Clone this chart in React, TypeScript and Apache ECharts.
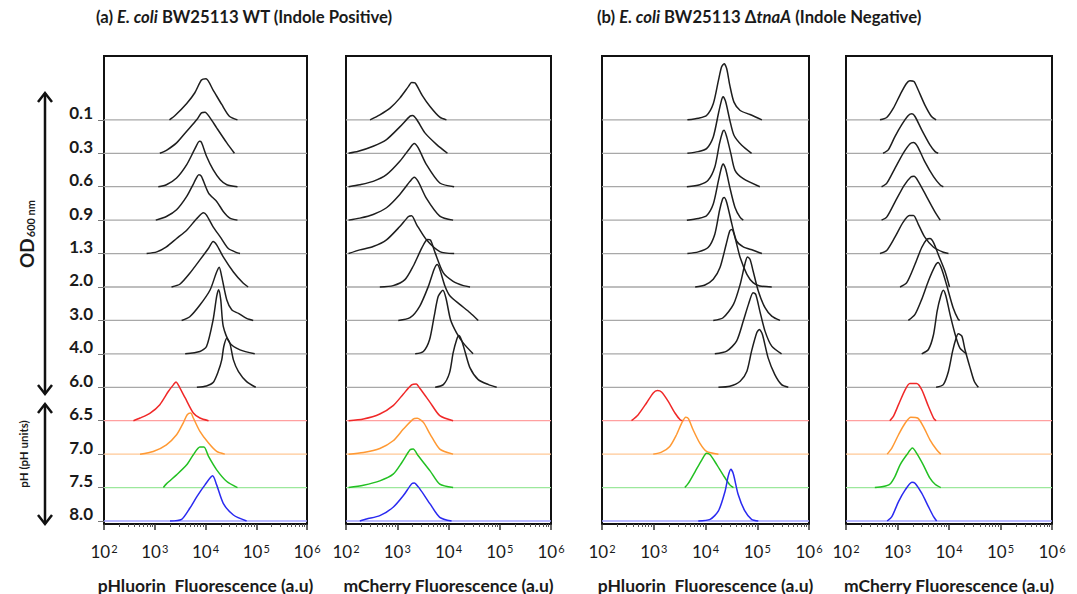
import { useEffect, useRef } from 'react';
import * as echarts from 'echarts';

// Row labels (top to bottom): OD600 values, then pH values
const rowLabels = ['0.1', '0.3', '0.6', '0.9', '1.3', '2.0', '3.0', '4.0', '6.0', '6.5', '7.0', '7.5', '8.0'];
const curveColors = ['#1e1e1e', '#1e1e1e', '#1e1e1e', '#1e1e1e', '#1e1e1e', '#1e1e1e', '#1e1e1e', '#1e1e1e', '#1e1e1e', '#f02828', '#ff9933', '#22c022', '#2a2af0'];
const baseColors = ['#a8a8a8', '#a8a8a8', '#a8a8a8', '#a8a8a8', '#a8a8a8', '#a8a8a8', '#a8a8a8', '#a8a8a8', '#a8a8a8', '#ffa0a0', '#ffc896', '#9ce89c', '#a0a0ff'];

// x tick values (a.u.)
const decadeTicks = [1e2, 1e3, 1e4, 1e5, 1e6];
const minorMultipliers = [2, 3, 4, 5, 6, 7, 8, 9];

// Each curve: [log10(fluorescence a.u.), relative count height in row units]
const pHluorinWT: number[][][] = [
  [[3.29, 0], [3.40, 0.13], [3.63, 0.49], [3.79, 0.81], [3.92, 1.19], [4.01, 1.23], [4.15, 0.89], [4.32, 0.46], [4.47, 0.11], [4.63, 0]],
  [[3.10, 0], [3.23, 0.09], [3.43, 0.31], [3.63, 0.66], [3.83, 1.01], [3.92, 1.21], [3.99, 1.23], [4.09, 1.06], [4.22, 0.76], [4.42, 0.31], [4.57, 0]],
  [[3.07, 0], [3.23, 0.06], [3.43, 0.26], [3.63, 0.66], [3.79, 1.13], [3.88, 1.36], [3.92, 1.33], [4.02, 0.91], [4.15, 0.51], [4.29, 0.21], [4.42, 0.06], [4.63, 0]],
  [[3.02, 0], [3.23, 0.11], [3.43, 0.31], [3.63, 0.71], [3.77, 1.11], [3.87, 1.36], [3.92, 1.31], [4.06, 0.81], [4.22, 0.56], [4.35, 0.26], [4.48, 0.06], [4.63, 0]],
  [[2.84, 0], [3.04, 0.05], [3.23, 0.2], [3.43, 0.45], [3.63, 0.7], [3.83, 1.05], [3.96, 1.22], [4.02, 1.15], [4.15, 0.8], [4.29, 0.5], [4.45, 0.15], [4.63, 0.02], [4.68, 0]],
  [[3.33, 0], [3.50, 0.09], [3.69, 0.41], [3.89, 0.81], [4.06, 1.16], [4.15, 1.36], [4.22, 1.26], [4.35, 0.9], [4.55, 0.45], [4.74, 0.12], [4.84, 0]],
  [[3.53, 0], [3.69, 0.11], [3.89, 0.46], [4.09, 0.91], [4.21, 1.41], [4.27, 1.59], [4.32, 1.31], [4.42, 0.61], [4.52, 0.31], [4.65, 0.21], [4.81, 0.06], [4.94, 0]],
  [[3.60, 0], [3.89, 0.07], [4.02, 0.22], [4.15, 1.02], [4.22, 1.72], [4.26, 1.92], [4.30, 1.62], [4.35, 0.82], [4.48, 0.32], [4.68, 0.12], [4.97, 0]],
  [[3.83, 0], [4.02, 0.04], [4.15, 0.14], [4.25, 0.47], [4.32, 0.82], [4.36, 1.22], [4.42, 1.47], [4.48, 1.32], [4.55, 0.82], [4.65, 0.47], [4.81, 0.17], [4.99, 0]],
  [[2.58, 0], [2.71, 0.08], [2.91, 0.23], [3.10, 0.48], [3.27, 0.88], [3.37, 1.08], [3.42, 1.16], [3.46, 1.08], [3.60, 0.68], [3.76, 0.23], [3.89, 0.08], [4.06, 0]],
  [[2.71, 0], [2.97, 0.08], [3.23, 0.28], [3.43, 0.58], [3.56, 0.93], [3.64, 1.18], [3.71, 1.23], [3.76, 1.08], [3.89, 0.68], [4.06, 0.33], [4.22, 0.08], [4.38, 0]],
  [[3.17, 0], [3.23, 0.11], [3.43, 0.38], [3.63, 0.68], [3.76, 0.98], [3.89, 1.21], [3.97, 1.21], [4.06, 0.93], [4.22, 0.53], [4.42, 0.18], [4.63, 0]],
  [[3.30, 0], [3.53, 0.05], [3.69, 0.38], [3.83, 0.73], [3.99, 1.08], [4.14, 1.35], [4.22, 1.08], [4.35, 0.53], [4.55, 0.18], [4.81, 0]],
];

const mCherryWT: number[][][] = [
  [[2.47, 0], [2.66, 0.15], [2.86, 0.35], [3.05, 0.65], [3.22, 1.0], [3.28, 1.12], [3.35, 1.1], [3.48, 0.75], [3.64, 0.4], [3.83, 0.08], [3.96, 0]],
  [[2.05, 0], [2.24, 0.06], [2.53, 0.21], [2.79, 0.41], [3.05, 0.79], [3.25, 1.11], [3.30, 1.13], [3.38, 1.01], [3.54, 0.61], [3.77, 0.26], [3.98, 0]],
  [[2.05, 0], [2.27, 0.06], [2.53, 0.16], [2.79, 0.36], [3.05, 0.76], [3.25, 1.16], [3.33, 1.29], [3.41, 1.16], [3.57, 0.66], [3.83, 0.11], [4.11, 0]],
  [[2.05, 0], [2.27, 0.06], [2.53, 0.17], [2.79, 0.37], [3.05, 0.77], [3.25, 1.16], [3.33, 1.28], [3.41, 1.15], [3.57, 0.65], [3.83, 0.12], [4.09, 0]],
  [[2.05, 0], [2.27, 0.11], [2.53, 0.21], [2.79, 0.41], [3.05, 0.81], [3.22, 1.11], [3.28, 1.13], [3.38, 0.86], [3.57, 0.41], [3.83, 0.06], [4.11, 0]],
  [[2.66, 0], [2.92, 0.04], [3.15, 0.22], [3.31, 0.62], [3.48, 1.17], [3.59, 1.42], [3.65, 1.40], [3.74, 1.02], [3.90, 0.42], [4.09, 0.17], [4.29, 0.04], [4.42, 0]],
  [[3.02, 0], [3.25, 0.08], [3.44, 0.43], [3.61, 1.03], [3.72, 1.53], [3.78, 1.67], [3.83, 1.53], [3.93, 1.03], [4.03, 0.73], [4.22, 0.48], [4.42, 0.23], [4.58, 0]],
  [[3.35, 0], [3.51, 0.07], [3.63, 0.42], [3.72, 1.12], [3.80, 1.72], [3.89, 1.9], [3.95, 1.67], [4.04, 1.02], [4.16, 0.62], [4.29, 0.32], [4.48, 0]],
  [[3.74, 0], [3.90, 0.08], [4.02, 0.43], [4.09, 1.03], [4.16, 1.43], [4.20, 1.55], [4.25, 1.43], [4.32, 1.08], [4.42, 0.58], [4.58, 0.23], [4.78, 0.08], [4.94, 0]],
  [[2.05, 0], [2.34, 0.05], [2.66, 0.2], [2.92, 0.45], [3.12, 0.8], [3.28, 1.07], [3.37, 1.1], [3.44, 0.97], [3.64, 0.55], [3.83, 0.15], [4.09, 0]],
  [[2.05, 0], [2.34, 0.05], [2.66, 0.17], [2.92, 0.4], [3.12, 0.75], [3.31, 1.05], [3.39, 1.07], [3.51, 0.95], [3.64, 0.6], [3.83, 0.15], [4.09, 0]],
  [[2.05, 0], [2.34, 0.07], [2.66, 0.2], [2.92, 0.4], [3.09, 0.75], [3.25, 1.13], [3.31, 1.15], [3.41, 0.95], [3.64, 0.5], [3.83, 0.1], [4.09, 0]],
  [[2.27, 0], [2.40, 0.06], [2.66, 0.16], [2.92, 0.41], [3.12, 0.76], [3.28, 1.11], [3.33, 1.14], [3.44, 0.96], [3.64, 0.51], [3.83, 0.11], [4.06, 0]],
];

const pHluorinTnaA: number[][][] = [
  [[3.65, 0], [3.86, 0.05], [4.02, 0.13], [4.15, 0.48], [4.25, 1.18], [4.31, 1.58], [4.36, 1.68], [4.41, 1.53], [4.47, 1.03], [4.55, 0.53], [4.67, 0.28], [4.86, 0.16], [5.09, 0]],
  [[3.65, 0], [3.86, 0.05], [4.02, 0.14], [4.15, 0.49], [4.25, 1.19], [4.31, 1.59], [4.34, 1.69], [4.39, 1.54], [4.47, 0.99], [4.55, 0.54], [4.70, 0.24], [4.89, 0]],
  [[3.64, 0], [3.89, 0.06], [4.05, 0.19], [4.18, 0.59], [4.27, 1.29], [4.33, 1.64], [4.36, 1.69], [4.41, 1.49], [4.49, 0.99], [4.57, 0.49], [4.73, 0.24], [5.05, 0]],
  [[3.64, 0], [3.86, 0.05], [4.02, 0.13], [4.15, 0.48], [4.25, 1.18], [4.31, 1.58], [4.34, 1.68], [4.39, 1.53], [4.47, 0.98], [4.57, 0.38], [4.67, 0.08], [4.73, 0]],
  [[3.65, 0], [3.86, 0.05], [4.05, 0.18], [4.18, 0.58], [4.27, 1.28], [4.33, 1.63], [4.36, 1.68], [4.41, 1.53], [4.51, 0.88], [4.60, 0.38], [4.73, 0.2], [4.92, 0.1], [5.09, 0]],
  [[3.80, 0], [3.99, 0.06], [4.15, 0.23], [4.28, 0.58], [4.40, 1.28], [4.47, 1.68], [4.51, 1.72], [4.57, 1.48], [4.67, 0.88], [4.80, 0.38], [4.92, 0.13], [5.05, 0.03], [5.28, 0]],
  [[4.15, 0], [4.34, 0.08], [4.54, 0.48], [4.67, 1.08], [4.76, 1.68], [4.81, 1.9], [4.86, 1.83], [4.92, 1.48], [5.02, 0.88], [5.15, 0.38], [5.28, 0.13], [5.44, 0]],
  [[4.18, 0], [4.41, 0.08], [4.60, 0.38], [4.73, 0.98], [4.83, 1.48], [4.92, 1.83], [4.97, 1.78], [5.05, 1.28], [5.15, 0.68], [5.28, 0.23], [5.47, 0]],
  [[4.25, 0], [4.47, 0.03], [4.67, 0.18], [4.80, 0.48], [4.89, 1.08], [4.99, 1.63], [5.04, 1.73], [5.10, 1.58], [5.21, 0.88], [5.34, 0.38], [5.47, 0.08], [5.60, 0]],
  [[2.57, 0], [2.70, 0.18], [2.86, 0.53], [2.99, 0.83], [3.07, 0.9], [3.15, 0.86], [3.28, 0.58], [3.41, 0.23], [3.51, 0.03], [3.57, 0]],
  [[2.99, 0], [3.15, 0.06], [3.31, 0.23], [3.44, 0.58], [3.54, 0.93], [3.62, 1.1], [3.67, 1.06], [3.76, 0.73], [3.89, 0.33], [4.02, 0.08], [4.25, 0]],
  [[3.60, 0], [3.67, 0.13], [3.80, 0.48], [3.93, 0.83], [4.02, 1.03], [4.09, 0.98], [4.22, 0.68], [4.34, 0.38], [4.47, 0.08], [4.54, 0]],
  [[3.86, 0], [4.09, 0.05], [4.25, 0.3], [4.38, 0.9], [4.44, 1.35], [4.49, 1.55], [4.54, 1.4], [4.63, 0.8], [4.76, 0.3], [4.89, 0.05], [5.02, 0]],
];

const mCherryTnaA: number[][][] = [
  [[2.66, 0], [2.79, 0.07], [2.92, 0.35], [3.05, 0.75], [3.17, 1.08], [3.24, 1.17], [3.32, 1.15], [3.40, 0.9], [3.53, 0.45], [3.66, 0.1], [3.75, 0]],
  [[2.72, 0], [2.82, 0.1], [2.95, 0.5], [3.08, 0.85], [3.21, 1.13], [3.28, 1.18], [3.34, 1.1], [3.47, 0.7], [3.63, 0.25], [3.73, 0.05], [3.79, 0]],
  [[2.69, 0], [2.79, 0.1], [2.95, 0.55], [3.11, 1.0], [3.24, 1.28], [3.31, 1.32], [3.39, 1.2], [3.53, 0.75], [3.70, 0.3], [3.83, 0.05], [3.89, 0]],
  [[2.69, 0], [2.79, 0.09], [2.95, 0.54], [3.13, 1.04], [3.26, 1.29], [3.32, 1.31], [3.40, 1.17], [3.57, 0.69], [3.73, 0.24], [3.83, 0]],
  [[2.66, 0], [2.79, 0.09], [2.95, 0.49], [3.11, 0.94], [3.23, 1.14], [3.31, 1.14], [3.40, 0.89], [3.53, 0.49], [3.70, 0.19], [3.89, 0.04], [3.99, 0]],
  [[3.05, 0], [3.18, 0.13], [3.34, 0.68], [3.47, 1.18], [3.57, 1.43], [3.63, 1.45], [3.70, 1.33], [3.79, 0.98], [3.92, 0.48], [4.01, 0]],
  [[3.21, 0], [3.34, 0.18], [3.47, 0.63], [3.60, 1.18], [3.73, 1.63], [3.79, 1.73], [3.86, 1.53], [3.95, 1.08], [4.08, 0.38], [4.18, 0.03], [4.21, 0]],
  [[3.47, 0], [3.60, 0.13], [3.70, 0.58], [3.77, 1.28], [3.84, 1.73], [3.89, 1.9], [3.94, 1.73], [4.02, 1.18], [4.12, 0.58], [4.21, 0.18], [4.34, 0]],
  [[3.75, 0], [3.89, 0.08], [3.99, 0.48], [4.07, 1.08], [4.14, 1.48], [4.18, 1.6], [4.25, 1.53], [4.31, 1.13], [4.41, 0.58], [4.49, 0.18], [4.57, 0]],
  [[2.85, 0], [2.92, 0.13], [3.02, 0.48], [3.15, 0.93], [3.24, 1.11], [3.37, 1.11], [3.47, 0.93], [3.60, 0.43], [3.70, 0.08], [3.75, 0]],
  [[2.80, 0], [2.89, 0.18], [3.02, 0.58], [3.15, 0.93], [3.26, 1.1], [3.39, 1.08], [3.50, 0.83], [3.63, 0.43], [3.76, 0.13], [3.84, 0]],
  [[2.56, 0], [2.72, 0.03], [2.85, 0.1], [2.95, 0.33], [3.05, 0.68], [3.18, 0.98], [3.29, 1.18], [3.37, 1.03], [3.50, 0.68], [3.63, 0.28], [3.73, 0.1], [3.84, 0]],
  [[2.80, 0], [2.89, 0.13], [3.02, 0.58], [3.15, 0.93], [3.28, 1.16], [3.34, 1.13], [3.47, 0.83], [3.60, 0.43], [3.70, 0.13], [3.76, 0]],
];

const panelData = [pHluorinWT, mCherryWT, pHluorinTnaA, mCherryTnaA];
const panelXNames = ['pHluorin  Fluorescence (a.u)', 'mCherry Fluorescence (a.u)', 'pHluorin  Fluorescence (a.u)', 'mCherry Fluorescence (a.u)'];

const FONT = 'Lato, "Open Sans", sans-serif';
const TEXT = '#1a1a1a';

export default function App() {
  const ref = useRef<HTMLDivElement>(null);

  useEffect(() => {
    document.body.style.margin = '0';
    const chart = echarts.init(ref.current!, null, { renderer: 'svg' });

    const panelLayout = [
      { left: 104, width: 203 },
      { left: 346, width: 205 },
      { left: 602, width: 207 },
      { left: 846, width: 206 },
    ];
    const nRows = rowLabels.length;
    const BASE_OFFSET = 0.09; // lowest baseline sits just above the x axis
    const baseOf = (r: number) => BASE_OFFSET + (nRows - 1 - r);
    const rowVals = rowLabels.map((_, r) => baseOf(r));
    const minorTicks: number[] = [];
    decadeTicks.slice(0, -1).forEach((d) => minorMultipliers.forEach((m) => minorTicks.push(d * m)));

    const grid = panelLayout.map((p) => ({
      left: p.left,
      width: p.width,
      top: 56,
      bottom: 70,
      show: true,
      borderColor: '#111',
      borderWidth: 2,
      backgroundColor: 'transparent',
      containLabel: false,
      outerBoundsMode: 'none',
    }));

    const xAxis: any[] = [];
    panelLayout.forEach((_, p) => {
      xAxis.push({
        type: 'log',
        logBase: 10,
        gridIndex: p,
        min: 1e2,
        max: 1e6,
        position: 'bottom',
        name: panelXNames[p],
        nameLocation: 'middle',
        nameGap: 52,
        nameTextStyle: { fontFamily: FONT, fontWeight: 'bold', fontSize: 17.5, color: TEXT },
        axisLine: { show: true, lineStyle: { color: '#111', width: 2 } },
        axisTick: { show: true, length: 6, customValues: decadeTicks, lineStyle: { color: '#333', width: 1.5 } },
        axisLabel: {
          show: true,
          customValues: decadeTicks,
          margin: 19,
          formatter: (v: number) => `{a|10}{b|${Math.round(Math.log10(v))}}`,
          rich: {
            a: { fontFamily: FONT, fontSize: 17, color: TEXT },
            b: { fontFamily: FONT, fontSize: 11, color: TEXT, verticalAlign: 'top', padding: [0, 0, 6, 1] },
          },
        },
        splitLine: { show: false },
        minorTick: { show: false },
      });
      xAxis.push({
        type: 'log',
        logBase: 10,
        gridIndex: p,
        min: 1e2,
        max: 1e6,
        position: 'bottom',
        offset: 0,
        axisLine: { show: false },
        axisTick: { show: true, length: 3, customValues: minorTicks, lineStyle: { color: '#555', width: 1 } },
        axisLabel: { show: false },
        splitLine: { show: false },
      });
    });

    const yAxis = panelLayout.map((_, p) => ({
      type: 'value',
      gridIndex: p,
      min: 0,
      max: 14,
      interval: 1,
      axisLine: { show: false },
      splitLine: { show: false },
      axisTick: p === 0
        ? { show: true, length: 6, customValues: rowVals, lineStyle: { color: '#777', width: 1 } }
        : { show: false },
      axisLabel: p === 0
        ? {
            show: true,
            customValues: rowVals,
            margin: 11,
            formatter: (v: number) => rowLabels[nRows - 1 - Math.round(v - BASE_OFFSET)],
            fontFamily: FONT,
            fontWeight: 'bold',
            fontSize: 17,
            color: TEXT,
            verticalAlign: 'bottom',
            lineHeight: 14,
          }
        : { show: false },
    }));

    const series: any[] = [];
    panelData.forEach((curves, p) => {
      curves.forEach((pts, r) => {
        const base = baseOf(r);
        series.push({
          type: 'line',
          xAxisIndex: p * 2,
          yAxisIndex: p,
          data: [[1e2, base], [1e6, base]],
          symbol: 'none',
          silent: true,
          z: 1,
          lineStyle: { color: baseColors[r], width: 1.3 },
        });
        series.push({
          type: 'line',
          xAxisIndex: p * 2,
          yAxisIndex: p,
          data: pts.map(([lx, h]) => [Math.pow(10, lx), base + h]),
          symbol: 'none',
          silent: true,
          smooth: 0.25,
          z: 2,
          lineStyle: { color: curveColors[r], width: 1.5 },
        });
      });
    });

    const titleRich = {
      b: { fontFamily: FONT, fontWeight: 'bold', fontSize: 16.7, color: TEXT },
      i: { fontFamily: FONT, fontWeight: 'bold', fontStyle: 'italic', fontSize: 16.7, color: TEXT },
    };

    const arrowStyle = { stroke: '#111', lineWidth: 2.5, fill: 'none' };

    const option: any = {
      animation: false,
      backgroundColor: '#ffffff',
      title: [
        {
          text: '{b|(a) }{i|E. coli}{b| BW25113 WT (Indole Positive)}',
          left: 96,
          top: 8,
          padding: 0,
          textStyle: { rich: titleRich },
        },
        {
          text: '{b|(b) }{i|E. coli}{b| BW25113 Δ}{i|tnaA}{b| (Indole Negative)}',
          left: 597,
          top: 8,
          padding: 0,
          textStyle: { rich: titleRich },
        },
      ],
      grid,
      xAxis,
      yAxis,
      series,
      graphic: [
        { type: 'line', shape: { x1: 45, y1: 93, x2: 45, y2: 394 }, style: arrowStyle },
        { type: 'polyline', shape: { points: [[38, 102], [45, 93], [52, 102]] }, style: arrowStyle },
        { type: 'polyline', shape: { points: [[38, 385], [45, 394], [52, 385]] }, style: arrowStyle },
        { type: 'line', shape: { x1: 45, y1: 404, x2: 45, y2: 524 }, style: arrowStyle },
        { type: 'polyline', shape: { points: [[38, 413], [45, 404], [52, 413]] }, style: arrowStyle },
        { type: 'polyline', shape: { points: [[38, 515], [45, 524], [52, 515]] }, style: arrowStyle },
        {
          type: 'text',
          x: 26,
          y: 234,
          rotation: Math.PI / 2,
          style: {
            text: '{a|OD}{b|600 nm}',
            align: 'center',
            verticalAlign: 'middle',
            rich: {
              a: { fontFamily: FONT, fontWeight: 'bold', fontSize: 19, fill: TEXT },
              b: { fontFamily: FONT, fontWeight: 'bold', fontSize: 11, fill: TEXT, verticalAlign: 'bottom', padding: [9, 0, 0, 1] },
            },
          },
        },
        {
          type: 'text',
          x: 23,
          y: 454,
          rotation: Math.PI / 2,
          style: {
            text: 'pH (pH units)',
            align: 'center',
            verticalAlign: 'middle',
            fontFamily: FONT,
            fontWeight: 'bold',
            fontSize: 11.5,
            fill: TEXT,
          },
        },
      ],
    };

    chart.setOption(option);
    return () => chart.dispose();
  }, []);

  return <div ref={ref} style={{ width: 1077, height: 594 }} />;
}
